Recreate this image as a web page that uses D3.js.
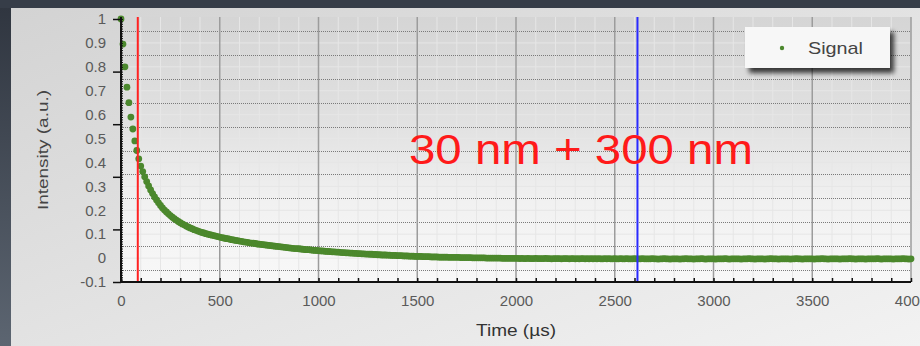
<!DOCTYPE html>
<html><head><meta charset="utf-8">
<script src="https://cdn.jsdelivr.net/npm/d3@7"></script>
<style>
html,body{margin:0;padding:0;background:#3a414c;}
svg{display:block;font-family:"Liberation Sans",Arial,Helvetica,sans-serif;}
</style></head>
<body>
<svg id="chart" width="920" height="346"></svg>
<script>
// ---------- data ----------
const sampleStep = 10; // µs between samples
const signal = [
1.000,0.895,0.800,0.715,0.650,0.590,0.540,0.490,0.450,0.415,0.385,
0.362,0.340,0.320,0.302,0.285,0.270,0.256,0.243,0.231,0.220,
0.210,0.201,0.193,0.185,0.178,0.171,0.165,0.159,0.153,0.148,
0.143,0.139,0.134,0.130,0.126,0.123,0.119,0.116,0.113,0.110,
0.107,0.105,0.102,0.100,0.098,0.096,0.094,0.092,0.090,0.088,
0.086,0.084,0.082,0.081,0.079,0.077,0.076,0.074,0.073,0.071,
0.070,0.068,0.067,0.066,0.064,0.063,0.062,0.061,0.059,0.058,
0.057,0.056,0.055,0.054,0.053,0.052,0.051,0.050,0.049,0.048,
0.047,0.046,0.045,0.044,0.043,0.042,0.041,0.040,0.040,0.039,
0.038,0.037,0.036,0.035,0.035,0.034,0.033,0.032,0.032,0.031,
0.030,0.030,0.029,0.028,0.028,0.027,0.026,0.026,0.025,0.025,
0.024,0.023,0.023,0.022,0.022,0.021,0.021,0.020,0.020,0.019,
0.019,0.018,0.018,0.017,0.017,0.016,0.016,0.015,0.015,0.014,
0.014,0.013,0.013,0.013,0.012,0.012,0.011,0.011,0.011,0.010,
0.010,0.010,0.009,0.009,0.009,0.008,0.008,0.008,0.007,0.007,
0.007,0.007,0.006,0.006,0.006,0.006,0.005,0.005,0.005,0.005,
0.004,0.004,0.004,0.004,0.004,0.003,0.003,0.003,0.003,0.003,
0.003,0.002,0.002,0.002,0.002,0.002,0.002,0.001,0.001,0.001,
0.001,0.001,0.001,0.001,0.000,0.000,0.000,0.000,0.000,0.000,
0.000,0.000,-0.001,-0.001,-0.001,-0.001,-0.001,-0.001,-0.001,-0.001,
-0.001,-0.002,-0.001,-0.002,-0.002,-0.001,-0.002,-0.002,-0.002,-0.001,
-0.002,-0.002,-0.002,-0.002,-0.001,-0.002,-0.002,-0.003,-0.002,-0.002,
-0.002,-0.002,-0.003,-0.002,-0.002,-0.002,-0.003,-0.002,-0.002,-0.003,
-0.002,-0.003,-0.002,-0.002,-0.003,-0.002,-0.003,-0.002,-0.003,-0.002,
-0.003,-0.002,-0.003,-0.003,-0.002,-0.003,-0.002,-0.003,-0.003,-0.002,
-0.003,-0.003,-0.002,-0.003,-0.003,-0.002,-0.003,-0.003,-0.003,-0.002,
-0.003,-0.003,-0.003,-0.002,-0.003,-0.003,-0.003,-0.003,-0.002,-0.003,
-0.003,-0.004,-0.003,-0.003,-0.002,-0.003,-0.003,-0.004,-0.003,-0.003,
-0.003,-0.003,-0.004,-0.003,-0.003,-0.002,-0.003,-0.003,-0.003,-0.004,
-0.003,-0.003,-0.003,-0.002,-0.003,-0.004,-0.003,-0.003,-0.003,-0.003,
-0.004,-0.003,-0.003,-0.003,-0.003,-0.002,-0.003,-0.004,-0.003,-0.003,
-0.003,-0.003,-0.003,-0.004,-0.003,-0.003,-0.003,-0.002,-0.003,-0.003,
-0.004,-0.003,-0.003,-0.003,-0.003,-0.004,-0.003,-0.003,-0.002,-0.003,
-0.003,-0.003,-0.004,-0.003,-0.003,-0.003,-0.003,-0.003,-0.004,-0.003,
-0.003,-0.002,-0.003,-0.003,-0.004,-0.003,-0.003,-0.003,-0.003,-0.003,
-0.004,-0.003,-0.003,-0.003,-0.002,-0.003,-0.003,-0.004,-0.003,-0.003,
-0.003,-0.003,-0.003,-0.004,-0.003,-0.003,-0.003,-0.003,-0.002,-0.003,
-0.003,-0.004,-0.003,-0.003,-0.003,-0.003,-0.004,-0.003,-0.003,-0.003,
-0.003,-0.003,-0.002,-0.003,-0.004,-0.003,-0.003,-0.003,-0.003,-0.003,
-0.004,-0.003,-0.003,-0.003,-0.003,-0.002,-0.003,-0.003,-0.004,-0.003
];
const times = signal.map((_, i) => i * sampleStep);
const seriesName = "Signal";
const xDomain = [0, 4000];
const yDomain = [-0.1, 1.0];
const xTickLabels = [0, 500, 1000, 1500, 2000, 2500, 3000, 3500, 4000];
const xMinorTicks = [0,100,200,300,400,500,600,700,800,900,1000,1100,1200,1300,1400,1500,1600,1700,1800,1900,2000,2100,2200,2300,2400,2500,2600,2700,2800,2900,3000,3100,3200,3300,3400,3500,3600,3700,3800,3900,4000];
const yTickLabels = [1, 0.9, 0.8, 0.7, 0.6, 0.5, 0.4, 0.3, 0.2, 0.1, 0, -0.1];
const yMajorMarks = [1, 0.78, 0.56, 0.34, 0.12, -0.1];
const yDottedGrid = [0.95, 0.85, 0.75, 0.65, 0.55, 0.45, 0.35, 0.25, 0.15, 0.05, -0.05];
const markerTimes = [85, 2615];
const markerColors = ["#ff2222", "#2a2aff"];
const annotation = "30 nm + 300 nm";
const xTitle = "Time (µs)";
const yTitle = "Intensity (a.u.)";

// ---------- layout ----------
const svg = d3.select("#chart");
const L = 121, R = 911, T = 17, B = 282;
const x = d3.scaleLinear().domain(xDomain).range([L, R]);
const y = d3.scaleLinear().domain(yDomain).range([B, 19]);

const defs = svg.append("defs");
const g1 = defs.append("linearGradient").attr("id","outer").attr("x1",0).attr("y1",0).attr("x2",0).attr("y2",1);
g1.append("stop").attr("offset","0").attr("stop-color","#2f353f");
g1.append("stop").attr("offset","1").attr("stop-color","#5c6571");
const g2 = defs.append("linearGradient").attr("id","panel").attr("x1",0).attr("y1",0).attr("x2",1).attr("y2",1);
g2.append("stop").attr("offset","0").attr("stop-color","#d3d3d3");
g2.append("stop").attr("offset","1").attr("stop-color","#f2f2f2");
const g3 = defs.append("linearGradient").attr("id","plotbg").attr("x1",0).attr("y1",0).attr("x2",0).attr("y2",1);
g3.append("stop").attr("offset","0").attr("stop-color","#d5d5d5");
g3.append("stop").attr("offset","0.4").attr("stop-color","#e1e1e1");
g3.append("stop").attr("offset","0.7").attr("stop-color","#f1f1f1");
g3.append("stop").attr("offset","1").attr("stop-color","#f8f8f8");
const f = defs.append("filter").attr("id","shadow").attr("x","-20%").attr("y","-30%").attr("width","150%").attr("height","180%");
f.append("feDropShadow").attr("dx",4).attr("dy",5).attr("stdDeviation",2.5).attr("flood-color","#000").attr("flood-opacity",0.75);
const fb = defs.append("filter").attr("id","soft");
fb.append("feGaussianBlur").attr("stdDeviation",0.4);

svg.append("rect").attr("width",920).attr("height",346).attr("fill","url(#outer)");
svg.append("rect").attr("x",0).attr("y",0).attr("width",920).attr("height",8).attr("fill","#363d48");
svg.append("rect").attr("x",11).attr("y",8).attr("width",909).attr("height",338).attr("fill","url(#panel)");

// plot background
svg.append("rect").attr("x",L).attr("y",T).attr("width",R-L).attr("height",B-T).attr("fill","url(#plotbg)");

// light minor grid
const grid = svg.append("g");
grid.selectAll("line.vm").data(xMinorTicks.filter(d => d % 500 !== 0)).join("line")
  .attr("x1",d=>x(d)).attr("x2",d=>x(d)).attr("y1",T).attr("y2",B)
  .attr("stroke","#e6e6e6").attr("stroke-width",1);
grid.selectAll("line.hm").data(yTickLabels.slice(1,-1)).join("line")
  .attr("x1",L).attr("x2",R).attr("y1",d=>y(d)).attr("y2",d=>y(d))
  .attr("stroke","#e6e6e6").attr("stroke-width",1);
// dotted grid
grid.selectAll("line.hd").data(yDottedGrid).join("line")
  .attr("x1",L+2).attr("x2",R).attr("y1",d=>Math.round(y(d))+0.5).attr("y2",d=>Math.round(y(d))+0.5)
  .attr("stroke","#7a7a7a").attr("stroke-width",1).attr("stroke-dasharray","1,1");
// major vertical grid
grid.selectAll("line.vM").data(xTickLabels.filter(d => d > 0)).join("line")
  .attr("x1",d=>x(d)).attr("x2",d=>x(d)).attr("y1",T).attr("y2",B)
  .attr("stroke","#9c9c9c").attr("stroke-width",1.5);

// data points
svg.append("g").attr("filter","url(#soft)").selectAll("circle").data(signal).join("circle")
  .attr("cx",(d,i)=>x(times[i])).attr("cy",d=>y(d)).attr("r",3.4)
  .attr("fill","#4c882d");

// marker lines
svg.append("g").selectAll("line").data(markerTimes).join("line")
  .attr("x1",d=>x(d)).attr("x2",d=>x(d)).attr("y1",T).attr("y2",B)
  .attr("stroke",(d,i)=>markerColors[i]).attr("stroke-width",2);

// axes
const yAxisMinor = d3.axisRight(y).tickValues(d3.range(0,111).map(i => -0.1 + i*0.01)).tickSize(3).tickFormat("");
svg.append("g").attr("transform",`translate(${L-1},0)`).call(yAxisMinor)
  .call(g => { g.select(".domain").remove(); g.selectAll("line").attr("stroke","#111"); });
const yAxisMajor = d3.axisLeft(y).tickValues(yMajorMarks).tickSize(8).tickFormat("");
svg.append("g").attr("transform",`translate(${L},0)`).call(yAxisMajor)
  .call(g => { g.select(".domain").remove(); g.selectAll("line").attr("stroke","#111").attr("stroke-width",1.5); });
const yAxisLabels = d3.axisLeft(y).tickValues(yTickLabels).tickSize(0).tickPadding(15).tickFormat(d => String(d));
svg.append("g").attr("transform",`translate(${L},0)`).call(yAxisLabels)
  .call(g => { g.select(".domain").remove(); g.selectAll("text").attr("font-size",15).attr("fill","#5a5a5a").attr("font-family","Liberation Sans, Arial, sans-serif"); });
svg.append("line").attr("x1",L).attr("x2",L).attr("y1",T).attr("y2",B+1).attr("stroke","#111").attr("stroke-width",2);

const xAxisMinor = d3.axisBottom(x).tickValues(xMinorTicks).tickSize(-4).tickFormat("");
svg.append("g").attr("transform",`translate(0,${B})`).call(xAxisMinor)
  .call(g => { g.select(".domain").remove(); g.selectAll("line").attr("stroke","#111").attr("stroke-width",1.5); });
const xAxisLabels = d3.axisBottom(x).tickValues(xTickLabels).tickSize(0).tickPadding(13).tickFormat(d => String(d));
svg.append("g").attr("transform",`translate(0,${B})`).call(xAxisLabels)
  .call(g => { g.select(".domain").remove(); g.selectAll("text").attr("font-size",15).attr("fill","#5a5a5a").attr("font-family","Liberation Sans, Arial, sans-serif"); });
svg.append("line").attr("x1",L-1).attr("x2",R).attr("y1",B).attr("y2",B).attr("stroke","#111").attr("stroke-width",2);

// titles
svg.append("text").attr("x",(L+R)/2).attr("y",336).attr("text-anchor","middle")
  .attr("font-size",16.5).attr("fill","#333").attr("textLength",80).attr("lengthAdjust","spacingAndGlyphs").text(xTitle);
svg.append("text").attr("transform","translate(48,150) rotate(-90)").attr("text-anchor","middle")
  .attr("font-size",15).attr("fill","#444").attr("textLength",120).attr("lengthAdjust","spacingAndGlyphs").text(yTitle);

// annotation
svg.append("text").attr("x",409).attr("y",164).attr("font-size",42).attr("fill","#ff1a1a")
  .attr("textLength",344).attr("lengthAdjust","spacingAndGlyphs").text(annotation);

// legend
const lg = svg.append("g");
lg.append("rect").attr("x",745).attr("y",27).attr("width",145).attr("height",41).attr("fill","#f7f7f7").attr("filter","url(#shadow)");
lg.append("circle").attr("cx",782).attr("cy",48).attr("r",2.2).attr("fill","#4c882d");
lg.append("text").attr("x",808).attr("y",54).attr("font-size",17).attr("fill","#444")
  .attr("textLength",55).attr("lengthAdjust","spacingAndGlyphs").text(seriesName);
</script>
</body></html>
